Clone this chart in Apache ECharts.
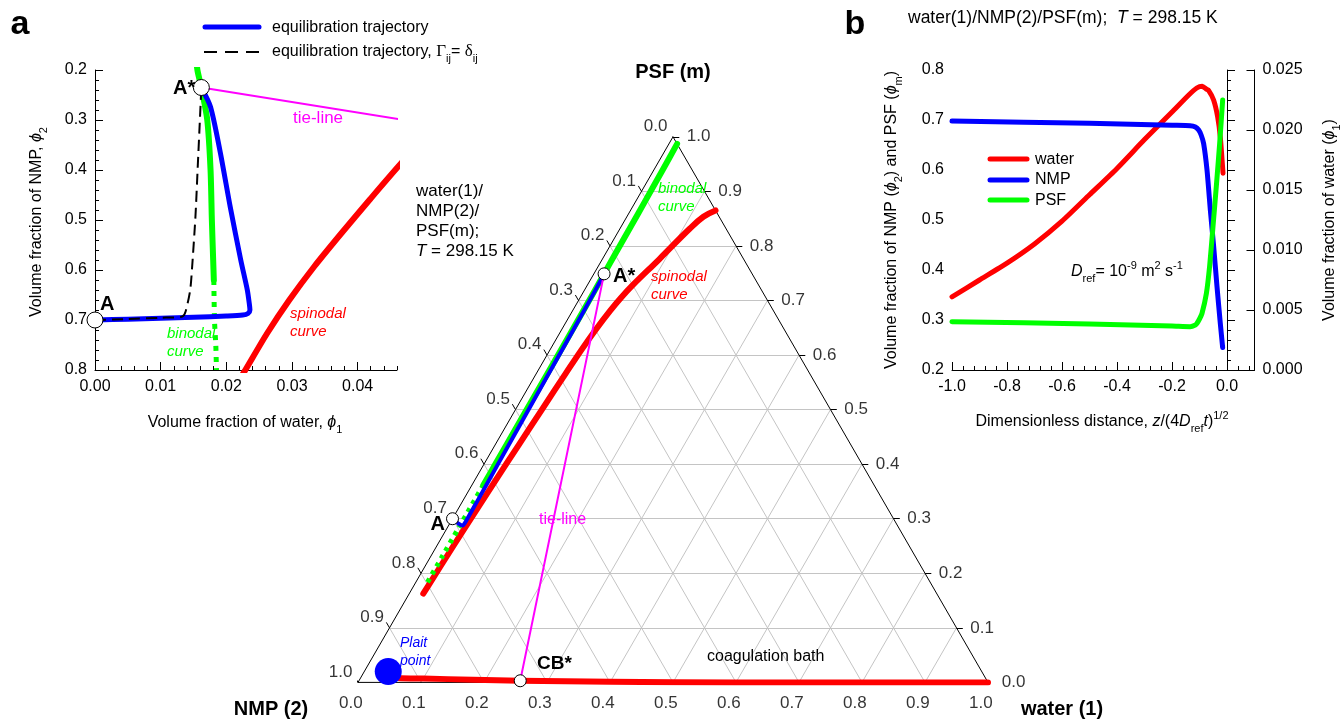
<!DOCTYPE html>
<html><head><meta charset="utf-8">
<script src="https://cdn.jsdelivr.net/npm/echarts@6/dist/echarts.min.js"></script>
<style>html,body{margin:0;padding:0;background:#fff}#c{width:1341px;height:721px}</style>
</head><body><div id="c"></div>
<script>
// ---------------- DATA ----------------
// Composition points given as [water (phi1), NMP (phi2)];  PSF (phi_m) = 1 - water - NMP
const binodalSolid = [[0.0130,0.00],[0.0140,0.05],[0.0147,0.10],[0.0152,0.15],[0.0156,0.20],[0.0162,0.235],[0.0171,0.30],[0.0176,0.40],[0.0178,0.50],[0.0180,0.58],[0.0181,0.62]];
const binodalDotted = [[0.0181,0.62],[0.0182,0.70],[0.0184,0.75],[0.0185,0.80]];
const spinodal = [[0.135,0.0],[0.1215,0.025],[0.1105,0.0585],[0.0905,0.1335],[0.0720,0.20],[0.0650,0.23],[0.0595,0.26],[0.0540,0.30],[0.0500,0.34],[0.0466,0.387],[0.0418,0.46],[0.0375,0.527],[0.0334,0.593],[0.0296,0.66],[0.0262,0.727],[0.0229,0.80],[0.0222,0.815]];
const leanBranch = [[0.042,0.940],[0.06,0.932],[0.10,0.893],[0.18,0.815],[0.256,0.741],[0.40,0.599],[0.60,0.40],[0.80,0.20],[1.0,0.0]];
const trajectory = [[0,0.700],[0.005,0.6985],[0.010,0.6965],[0.015,0.6945],[0.020,0.692],[0.0225,0.690],[0.0233,0.687],[0.0236,0.680],[0.0235,0.667],[0.0232,0.640],[0.0222,0.580],[0.0206,0.474],[0.0191,0.366],[0.0176,0.274],[0.0162,0.235]];
const trajectoryIdeal = [[0,0.700],[0.005,0.698],[0.010,0.6955],[0.0133,0.693],[0.0138,0.683],[0.0145,0.640],[0.0148,0.593],[0.0153,0.493],[0.01565,0.393],[0.0160,0.293],[0.0162,0.235]];
const tieLine = [[0.0162,0.235],[0.256,0.741]];
const pointA = [0, 0.700];
const pointAstar = [0.0162, 0.235];
const pointCBstar = [0.256, 0.741];
const plaitPoint = [0.038, 0.942];
const ternaryTicks = [0.0,0.1,0.2,0.3,0.4,0.5,0.6,0.7,0.8,0.9,1.0];

// Panel b: [dimensionless distance, volume fraction]
const waterProfile = [[-1.0,0.0061],[-0.9,0.0075],[-0.8,0.0089],[-0.7,0.0105],[-0.6,0.0124],[-0.5,0.0146],[-0.4,0.0168],[-0.3,0.0192],[-0.2,0.0215],[-0.14,0.0229],[-0.11,0.0235],[-0.09,0.02365],[-0.075,0.0234],[-0.067,0.0233],[-0.0487,0.0225],[-0.034,0.0211],[-0.0243,0.0194],[-0.0145,0.0164]];
const nmpProfile = [[-1.0,0.698],[-0.5,0.6935],[-0.2,0.6895],[-0.134,0.6887],[-0.115,0.686],[-0.103,0.680],[-0.094,0.670],[-0.085,0.653],[-0.0727,0.60],[-0.0606,0.52],[-0.0485,0.447],[-0.0364,0.367],[-0.0243,0.293],[-0.0158,0.245]];
const psfProfile = [[-1.0,0.2967],[-0.5,0.292],[-0.2,0.288],[-0.134,0.2867],[-0.115,0.290],[-0.109,0.2935],[-0.1,0.302],[-0.091,0.313],[-0.075,0.353],[-0.0633,0.407],[-0.0509,0.487],[-0.0389,0.567],[-0.0267,0.653],[-0.0158,0.74]];

// ---------------- HELPERS ----------------
const FONT = "'Liberation Sans', Arial, Helvetica, sans-serif";
const SERIF = "'Liberation Serif', 'DejaVu Serif', serif";
const H = Math.sqrt(3) / 2;
const tern = (w, n) => { const p = 1 - w - n; return [w + p / 2, p * H]; };
const toT = a => a.map(d => tern(d[0], d[1]));
const RED = '#ff0000', BLUE = '#0000ff', GREEN = '#00ff00', MAG = '#ff00ff';

const gridVals = ternaryTicks.slice(1, -1);
const gridLinesData = [];
gridVals.forEach(v => {
  gridLinesData.push({coords: [tern(0, 1 - v), tern(1 - v, 0)]});
  gridLinesData.push({coords: [tern(v, 1 - v), tern(v, 0)]});
  gridLinesData.push({coords: [tern(0, v), tern(1 - v, v)]});
});
const TL = 0.01;
const leftTick = t => { const p = tern(0, t); return [p, [p[0] - TL * 0.5, p[1] + TL * H]]; };
const rightTick = t => { const p = tern(1 - t, 0); return [p, [p[0] + TL, p[1]]]; };
const bottomTick = t => { const p = tern(t, 1 - t); return [p, [p[0] - TL * 0.5, p[1] - TL * H]]; };
const tickLines = [];
ternaryTicks.forEach(t => { tickLines.push({coords: leftTick(t)}, {coords: rightTick(t)}, {coords: bottomTick(t)}); });
const lblData = f => ternaryTicks.map(t => { const e = f(t)[1]; return [e[0], e[1], t]; });

function tickLabelSeries(data, label) {
  return {type: 'scatter', xAxisIndex: 1, yAxisIndex: 1, data, symbolSize: 1, silent: true, clip: false,
    itemStyle: {color: 'rgba(0,0,0,0)'},
    label: Object.assign({show: true, color: '#000', fontFamily: FONT, fontSize: 17, formatter: p => p.value[2].toFixed(1)}, label)};
}

function T(x, y, text, o = {}) {
  const st = {text, fill: o.color || '#000', fontSize: o.size || 16, fontFamily: FONT,
    fontWeight: o.bold ? 'bold' : 'normal', fontStyle: o.italic ? 'italic' : 'normal',
    align: o.align || 'left', textAlign: o.align || 'left', verticalAlign: 'middle', textVerticalAlign: 'middle'};
  if (o.rich) st.rich = o.rich;
  return {type: 'text', x, y, rotation: o.rot || 0, silent: true, z: 100, style: st};
}
function L(x1, y1, x2, y2, color, w, dash) {
  return {type: 'line', silent: true, z: 100, shape: {x1, y1, x2, y2},
    style: {stroke: color, lineWidth: w, lineDash: dash || null, lineCap: dash ? 'butt' : 'round'}};
}
function richSet(size, color) {
  const b = {fontFamily: FONT, fill: color || '#000', fontSize: size};
  const s = Math.round(size * 0.68);
  return {
    n: Object.assign({}, b, {lineHeight: 24}),
    i: Object.assign({}, b, {fontStyle: 'italic', lineHeight: 24}),
    sub: Object.assign({}, b, {fontSize: s, lineHeight: s + 1, verticalAlign: 'bottom'}),
    sup: Object.assign({}, b, {fontSize: s, lineHeight: s + 1, verticalAlign: 'top'}),
    g: {fontFamily: SERIF, fill: color || '#000', fontSize: size + 1, lineHeight: 24}
  };
}
const R16 = richSet(16);
const R17 = richSet(17);
const R175 = richSet(17.5);

const axisTxt = {color: '#000', fontFamily: FONT, fontSize: 16};
const blackLine = {show: true, lineStyle: {color: '#000', width: 1}};
const fmt = d => v => (Math.abs(v) < 1e-9 ? 0 : v).toFixed(d);
const lineS = (xi, yi, data, color, width, extra) => Object.assign({
  type: 'line', xAxisIndex: xi, yAxisIndex: yi, data, showSymbol: false, symbol: 'none', silent: true,
  smooth: 0.25, lineStyle: {color, width, cap: 'round', join: 'round'}}, extra || {});

// ---------------- OPTION ----------------
const option = {
  animation: false,
  backgroundColor: '#fff',
  grid: [
    {left: 95, top: 70, width: 302, height: 300},
    {left: 358, top: 136.8, width: 630, height: 545.6},
    {left: 952, top: 70, width: 302.5, height: 300},
    {left: 95, top: 70, width: 302, height: 300},
    {left: 952, top: 70, width: 302.5, height: 300}
  ],
  xAxis: [
    {gridIndex: 0, type: 'value', min: 0, max: 0.046, interval: 0.01, axisLine: blackLine,
     axisTick: {show: true, inside: true, length: 8, lineStyle: {color: '#000'}},
     axisLabel: Object.assign({margin: 9, formatter: fmt(2), showMaxLabel: false, showMinLabel: true}, axisTxt), splitLine: {show: false}},
    {gridIndex: 1, type: 'value', min: 0, max: 1, show: false},
    {gridIndex: 2, type: 'value', min: -1, max: 0.1, interval: 0.2, axisLine: blackLine,
     axisTick: {show: true, inside: true, length: 8, lineStyle: {color: '#000'}},
     axisLabel: Object.assign({margin: 9, formatter: fmt(1), showMaxLabel: false, showMinLabel: true}, axisTxt), splitLine: {show: false}},
    {gridIndex: 3, type: 'value', min: 0, max: 0.046, interval: 0.002, axisLine: {show: false},
     axisTick: {show: true, inside: true, length: 4, lineStyle: {color: '#000'}}, axisLabel: {show: false}, splitLine: {show: false}},
    {gridIndex: 4, type: 'value', min: -1, max: 0.1, interval: 0.04, axisLine: {show: false},
     axisTick: {show: true, inside: true, length: 4, lineStyle: {color: '#000'}}, axisLabel: {show: false}, splitLine: {show: false}}
  ],
  yAxis: [
    {gridIndex: 0, type: 'value', inverse: true, min: 0.2, max: 0.8, interval: 0.1, axisLine: blackLine,
     axisTick: {show: true, inside: true, length: 8, lineStyle: {color: '#000'}},
     minorTick: {show: true, splitNumber: 5, length: 4, lineStyle: {color: '#000'}}, minorSplitLine: {show: false},
     axisLabel: Object.assign({margin: 8, formatter: fmt(1)}, axisTxt), splitLine: {show: false}},
    {gridIndex: 1, type: 'value', min: 0, max: H, show: false},
    {gridIndex: 2, type: 'value', position: 'left', min: 0.2, max: 0.8, interval: 0.1, axisLine: blackLine,
     axisTick: {show: true, inside: true, length: 8, lineStyle: {color: '#000'}},
     minorTick: {show: true, splitNumber: 5, length: 4, lineStyle: {color: '#000'}}, minorSplitLine: {show: false},
     axisLabel: Object.assign({margin: 8, formatter: fmt(1)}, axisTxt), splitLine: {show: false}},
    {gridIndex: 2, type: 'value', position: 'right', min: 0, max: 0.025, interval: 0.005, axisLine: blackLine,
     axisTick: {show: true, inside: true, length: 8, lineStyle: {color: '#000'}},
     axisLabel: Object.assign({margin: 8, formatter: fmt(3)}, axisTxt), splitLine: {show: false}},
    {gridIndex: 3, type: 'value', min: 0, max: 1, show: false},
    {gridIndex: 4, type: 'value', min: 0, max: 1, show: false}
  ],
  series: [
    // ---- panel a ----
    lineS(0, 0, binodalSolid, GREEN, 6),
    lineS(0, 0, binodalDotted, GREEN, 5, {lineStyle: {color: GREEN, width: 5, type: [5, 6], cap: 'butt'}}),
    lineS(0, 0, spinodal, RED, 6),
    lineS(0, 0, tieLine, MAG, 2, {smooth: false}),
    lineS(0, 0, trajectory, BLUE, 5),
    lineS(0, 0, trajectoryIdeal, '#000', 2, {lineStyle: {color: '#000', width: 2, type: [11, 6], cap: 'butt'}}),
    {type: 'scatter', xAxisIndex: 0, yAxisIndex: 0, data: [pointA, pointAstar], symbolSize: 16, clip: false, silent: true,
     itemStyle: {color: '#fff', borderColor: '#000', borderWidth: 1, opacity: 1}, z: 5},

    // ---- ternary ----
    {type: 'lines', coordinateSystem: 'cartesian2d', xAxisIndex: 1, yAxisIndex: 1, data: gridLinesData, silent: true,
     lineStyle: {color: '#c4c4c4', width: 1, opacity: 1}},
    {type: 'line', xAxisIndex: 1, yAxisIndex: 1, data: [tern(0, 1), tern(1, 0), tern(0, 0), tern(0, 1)], symbol: 'none', silent: true,
     lineStyle: {color: '#000', width: 1}},
    {type: 'lines', coordinateSystem: 'cartesian2d', xAxisIndex: 1, yAxisIndex: 1, data: tickLines, silent: true,
     lineStyle: {color: '#000', width: 1, opacity: 1}},
    tickLabelSeries(lblData(leftTick), {position: 'left', distance: 2, offset: [0, -5]}),
    tickLabelSeries(lblData(rightTick), {position: 'right', distance: 7}),
    tickLabelSeries(lblData(bottomTick), {position: 'bottom', distance: 6, offset: [-4, 0]}),
    lineS(1, 1, toT(leanBranch), RED, 6, {smooth: 0.15}),
    lineS(1, 1, toT(spinodal), RED, 6, {smooth: 0.4}),
    lineS(1, 1, toT(binodalSolid), GREEN, 6),
    lineS(1, 1, toT(binodalDotted), GREEN, 5, {lineStyle: {color: GREEN, width: 5, type: [4, 5], cap: 'butt'}}),
    lineS(1, 1, toT(trajectory), BLUE, 4),
    lineS(1, 1, toT(tieLine), MAG, 2, {smooth: false}),
    {type: 'scatter', xAxisIndex: 1, yAxisIndex: 1, data: [tern(plaitPoint[0], plaitPoint[1])], symbolSize: 27, clip: false, silent: true,
     itemStyle: {color: BLUE, opacity: 1}, z: 5},
    {type: 'scatter', xAxisIndex: 1, yAxisIndex: 1, data: toT([pointA, pointAstar, pointCBstar]), symbolSize: 12, clip: false, silent: true,
     itemStyle: {color: '#fff', borderColor: '#000', borderWidth: 1, opacity: 1}, z: 6},

    // ---- panel b ----
    lineS(2, 3, waterProfile, RED, 5, {smooth: 0.2}),
    lineS(2, 2, nmpProfile, BLUE, 5, {smooth: 0.2}),
    lineS(2, 2, psfProfile, GREEN, 5, {smooth: 0.2})
  ],
  graphic: {elements: [
    T(20, 25, 'a', {size: 34, bold: true, align: 'center'}),
    T(855, 25, 'b', {size: 34, bold: true, align: 'center'}),
    // panel a legend
    L(205, 27, 259, 27, BLUE, 5),
    T(272, 28, 'equilibration trajectory', {size: 16}),
    L(204, 52, 260, 52, '#000', 2, [13, 8]),
    T(272, 52, '{n|equilibration trajectory, }{g|Γ}{sub|ij}{n|= }{g|δ}{sub|ij}', {size: 16, rich: R16}),
    // panel a annotations
    T(173, 88, 'A*', {size: 20, bold: true}),
    T(100, 304, 'A', {size: 20, bold: true}),
    T(293, 118, 'tie-line', {size: 17, color: MAG}),
    T(290, 314, 'spinodal', {size: 15, color: RED, italic: true}),
    T(290, 332, 'curve', {size: 15, color: RED, italic: true}),
    T(167, 334, 'binodal', {size: 15, color: GREEN, italic: true}),
    T(167, 352, 'curve', {size: 15, color: GREEN, italic: true}),
    T(37, 222, '{n|Volume fraction of NMP, }{i|ϕ}{sub|2}', {size: 16, rich: R16, align: 'center', rot: Math.PI / 2}),
    T(245, 423, '{n|Volume fraction of water, }{i|ϕ}{sub|1}', {size: 16, rich: R16, align: 'center'}),
    // ternary annotations
    T(416, 191, 'water(1)/', {size: 17}),
    T(416, 211, 'NMP(2)/', {size: 17}),
    T(416, 231, 'PSF(m);', {size: 17}),
    T(416, 251, '{i|T}{n| = 298.15 K}', {size: 17, rich: R17}),
    T(658, 189, 'binodal', {size: 15, color: GREEN, italic: true}),
    T(658, 207, 'curve', {size: 15, color: GREEN, italic: true}),
    T(651, 277, 'spinodal', {size: 15, color: RED, italic: true}),
    T(651, 295, 'curve', {size: 15, color: RED, italic: true}),
    T(613, 276, 'A*', {size: 20, bold: true}),
    T(445, 524, 'A', {size: 20, bold: true, align: 'right'}),
    T(539, 520, 'tie-line', {size: 16, color: MAG}),
    T(400, 643, 'Plait', {size: 14, color: BLUE, italic: true}),
    T(400, 661, 'point', {size: 14, color: BLUE, italic: true}),
    T(537, 664, 'CB*', {size: 19, bold: true}),
    T(707, 657, 'coagulation bath', {size: 16}),
    T(673, 72, 'PSF (m)', {size: 20, bold: true, align: 'center'}),
    T(271, 709, 'NMP (2)', {size: 20, bold: true, align: 'center'}),
    T(1062, 709, 'water (1)', {size: 20, bold: true, align: 'center'}),
    // panel b
    T(908, 18, '{n|water(1)/NMP(2)/PSF(m);  }{i|T}{n| = 298.15 K}', {size: 17.5, rich: R175}),
    L(990, 159, 1027, 159, RED, 5),
    L(990, 180, 1027, 180, BLUE, 5),
    L(990, 200, 1027, 200, GREEN, 5),
    T(1035, 160, 'water', {size: 16}),
    T(1035, 180, 'NMP', {size: 16}),
    T(1035, 201, 'PSF', {size: 16}),
    T(1071, 272, '{i|D}{sub|ref}{n|= 10}{sup|-9}{n| m}{sup|2}{n| s}{sup|-1}', {size: 16, rich: R16}),
    T(1102, 422, '{n|Dimensionless distance, }{i|z}{n|/(4}{i|D}{sub|ref}{i|t}{n|)}{sup|1/2}', {size: 16, rich: R16, align: 'center'}),
    T(892, 220, '{n|Volume fraction of NMP (}{i|ϕ}{sub|2}{n|) and PSF (}{i|ϕ}{sub|m}{n|)}', {size: 16, rich: R16, align: 'center', rot: Math.PI / 2}),
    T(1330, 220, '{n|Volume fraction of water (}{i|ϕ}{sub|1}{n|)}', {size: 16, rich: R16, align: 'center', rot: Math.PI / 2})
  ]}
};
const chart = echarts.init(document.getElementById('c'), null, {renderer: 'canvas'});
chart.setOption(option);
</script>
</body></html>
